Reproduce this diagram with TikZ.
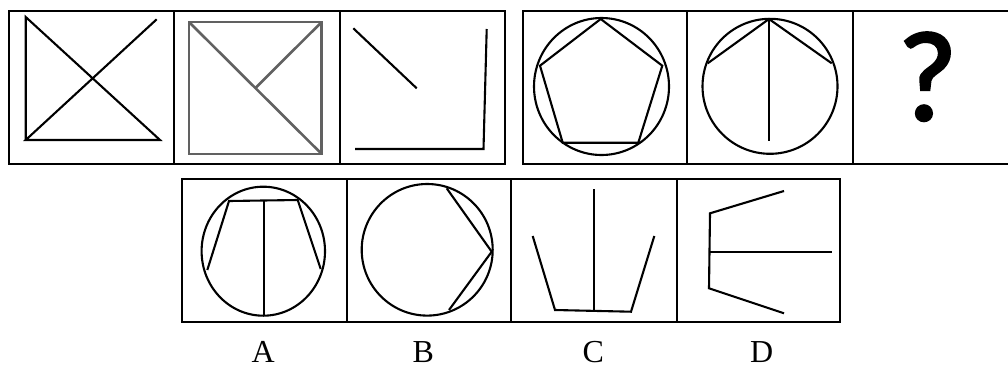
\documentclass[tikz,border=0pt]{standalone}
\usepackage{fontspec}
\setmainfont{Liberation Serif}
\newfontfamily\qfont[FakeBold=2.2]{Carlito}
\begin{document}
\begin{tikzpicture}[x=1pt,y=-1pt,
  frame/.style={line width=2pt,black},
  fig/.style={line width=2.1pt,black,line join=miter},
  grayfig/.style={line width=2.6pt,black!62,line join=miter},
  lab/.style={anchor=base,font=\fontsize{32}{32}\selectfont,inner sep=0pt}]
\clip (0,0) rectangle (1008,367);
% ---------- top left group ----------
\draw[frame] (9,11) rectangle (505,164);
\draw[frame] (174,11) -- (174,164);
\draw[frame] (339.5,11) -- (339.5,164);
% panel 1
\draw[fig] (156.7,19.3) -- (25.7,140) -- (160,140) -- (25.7,17) -- (25.7,140);
% panel 2
\draw[grayfig] (189,22) rectangle (321.7,154);
\draw[grayfig] (189,22) -- (321.7,154);
\draw[grayfig] (321.7,22) -- (255.4,88);
% panel 3
\draw[fig] (353.3,28.3) -- (416.7,88.3);
\draw[fig] (355,149) -- (483.5,149) -- (486.7,29);
% ---------- top right group ----------
\draw[frame] (523,11) rectangle (1012,163.5);
\draw[frame] (687,11) -- (687,163.5);
\draw[frame] (852.5,11) -- (852.5,163.5);
% panel 4
\draw[fig] (601.5,86.5) ellipse[x radius=67.5pt,y radius=68.5pt];
\draw[fig] (600.7,19) -- (662.3,65.7) -- (638.3,142.7) -- (562.7,142.7) -- (540,65.7) -- cycle;
% panel 5
\draw[fig] (770,86.3) ellipse[x radius=67.5pt,y radius=67.5pt];
\draw[fig] (707.7,63.3) -- (769,19) -- (831.7,63.3);
\draw[fig] (769,19) -- (769,140.7);
% question mark
\node[anchor=base,inner sep=0pt,font=\qfont\fontsize{128}{128}\selectfont] (q) at (927.5,120) {?};
% ---------- bottom group ----------
\draw[frame] (182.3,178.5) rectangle (840,321.7);
\draw[frame] (346.7,178.5) -- (346.7,321.7);
\draw[frame] (510.7,178.5) -- (510.7,321.7);
\draw[frame] (676.7,178.5) -- (676.7,321.7);
% A
\draw[fig] (263.3,251.2) ellipse[x radius=61.7pt,y radius=64.5pt];
\draw[fig] (207.3,270) -- (229,201) -- (297.7,200) -- (320.7,269);
\draw[fig] (264,200.5) -- (264,315);
% B
\draw[fig] (427.2,249.8) ellipse[x radius=65.5pt,y radius=65.8pt];
\draw[fig] (446.7,188.3) -- (491.7,251.7) -- (449,310);
% C
\draw[fig] (594,189) -- (594,311);
\draw[fig] (532.7,236) -- (555,310) -- (631,311.7) -- (654.3,236);
% D
\draw[fig] (784,191) -- (710,213.3) -- (709,288.3) -- (784,313.3);
\draw[fig] (709.5,251.7) -- (831.7,251.7);
% labels
\node[lab] (la) at (263.3,362) {A};
\node[lab] (lb) at (423.3,362) {B};
\node[lab] (lc) at (593.3,362) {C};
\node[lab] (ld) at (761.7,362) {D};
\end{tikzpicture}
\end{document}
